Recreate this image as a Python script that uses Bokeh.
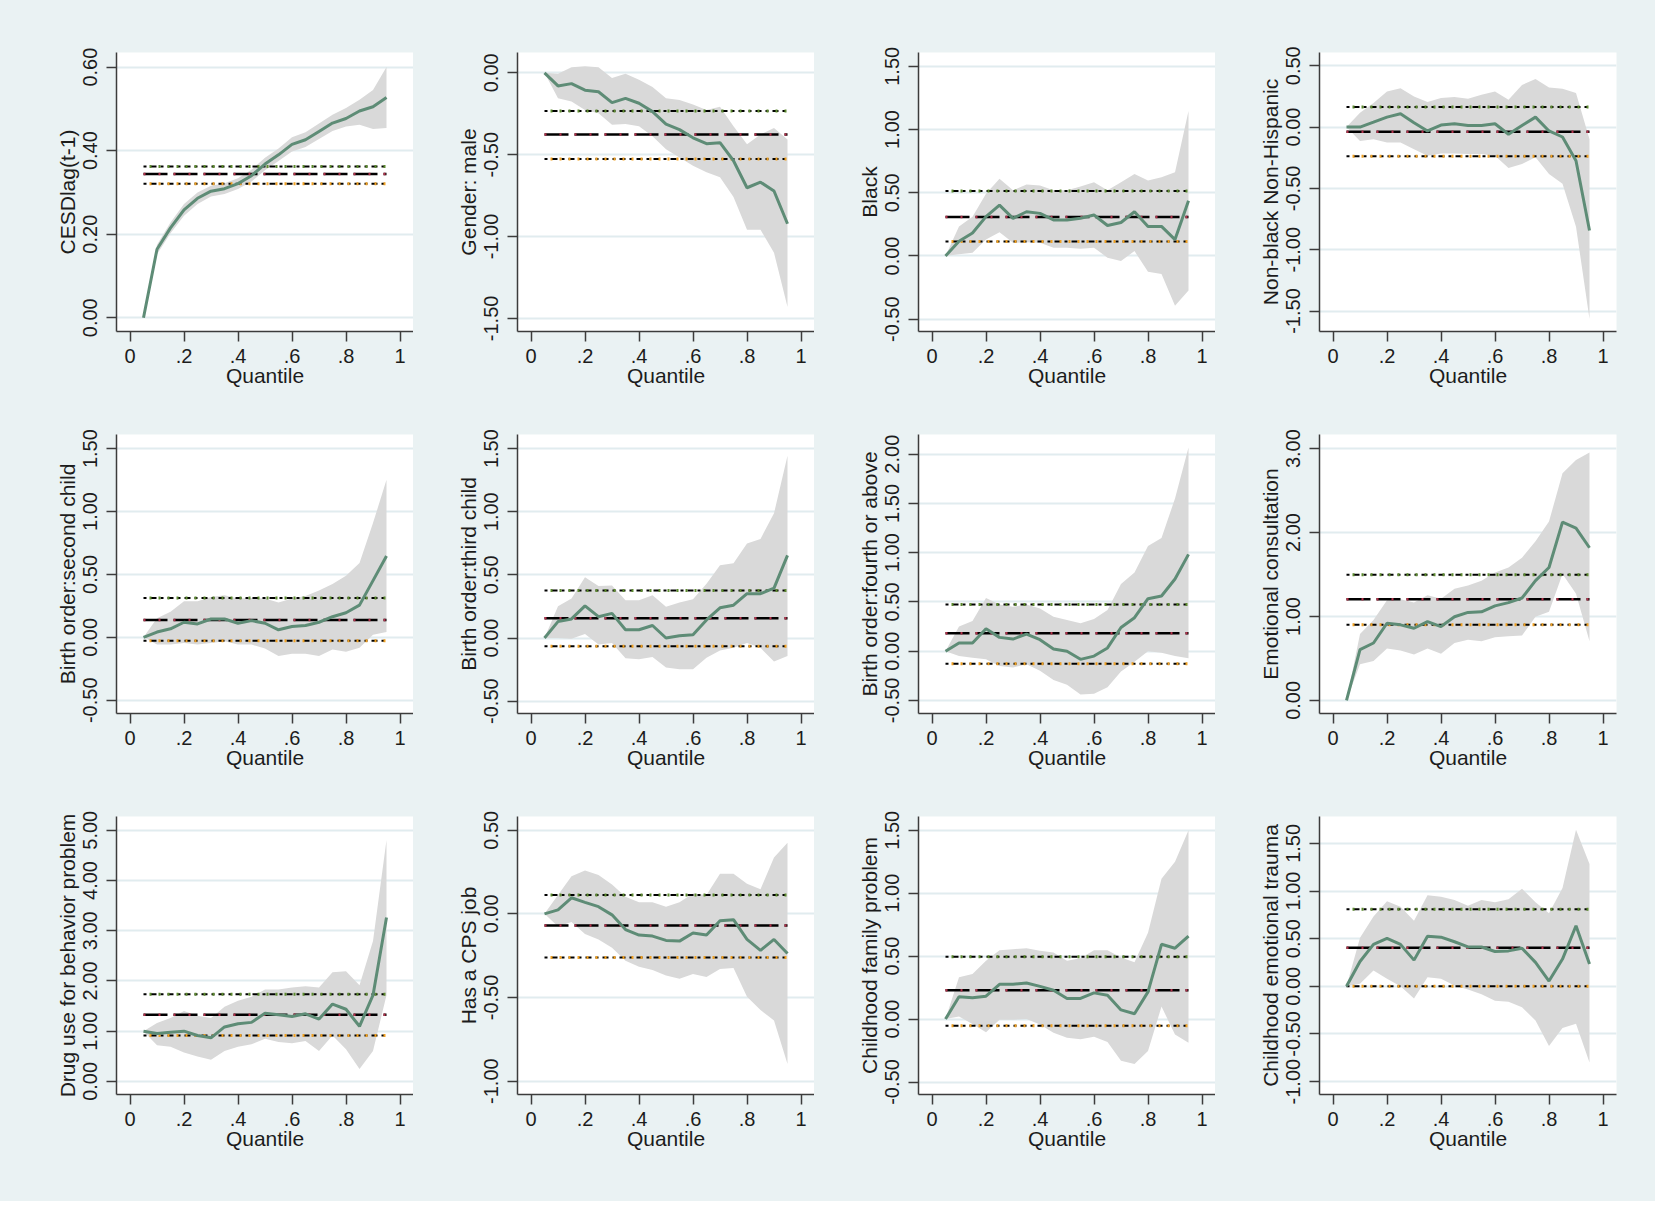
from bokeh.plotting import figure
from bokeh.layouts import row, column
from bokeh.models import Range1d, PrintfTickFormatter, CustomJSTickFormatter
from bokeh.embed import file_html
from bokeh.resources import INLINE

# quantiles used by every panel
quantiles = [0.05, 0.10, 0.15, 0.20, 0.25, 0.30, 0.35, 0.40, 0.45, 0.50,
             0.55, 0.60, 0.65, 0.70, 0.75, 0.80, 0.85, 0.90, 0.95]
x_ticks = [0, 0.2, 0.4, 0.6, 0.8, 1]

# CESDlag(t-1)
cesd_coef = [0.000, 0.164, 0.215, 0.258, 0.286, 0.303, 0.309, 0.321, 0.340, 0.368, 0.390, 0.415, 0.426, 0.446, 0.466, 0.477, 0.495, 0.505, 0.527]
cesd_hi   = [0.000, 0.175, 0.228, 0.272, 0.300, 0.316, 0.322, 0.334, 0.354, 0.383, 0.405, 0.432, 0.444, 0.465, 0.486, 0.502, 0.522, 0.545, 0.600]
cesd_lo   = [0.000, 0.152, 0.202, 0.244, 0.272, 0.290, 0.296, 0.308, 0.326, 0.353, 0.375, 0.398, 0.409, 0.428, 0.447, 0.458, 0.462, 0.452, 0.454]
cesd_ols  = [0.362, 0.344, 0.321]

# Gender: male
male_coef = [0.000, -0.080, -0.066, -0.106, -0.116, -0.182, -0.156, -0.186, -0.237, -0.313, -0.347, -0.397, -0.433, -0.427, -0.537, -0.702, -0.668, -0.722, -0.922]
male_hi   = [0.000, -0.006, 0.034, 0.040, 0.034, -0.032, -0.006, -0.042, -0.086, -0.156, -0.166, -0.193, -0.227, -0.207, -0.327, -0.437, -0.377, -0.337, -0.407]
male_lo   = [0.000, -0.156, -0.176, -0.227, -0.247, -0.317, -0.313, -0.327, -0.387, -0.467, -0.517, -0.567, -0.608, -0.638, -0.758, -0.958, -0.958, -1.099, -1.430]
male_ols  = [-0.233, -0.377, -0.527]

# Black
black_coef = [0.000, 0.117, 0.182, 0.311, 0.402, 0.298, 0.350, 0.337, 0.285, 0.285, 0.298, 0.324, 0.241, 0.265, 0.350, 0.234, 0.234, 0.130, 0.436]
black_hi   = [0.000, 0.234, 0.311, 0.493, 0.610, 0.519, 0.566, 0.558, 0.519, 0.519, 0.550, 0.584, 0.519, 0.584, 0.649, 0.597, 0.623, 0.662, 1.147]
black_lo   = [0.000, 0.013, 0.026, 0.130, 0.187, 0.104, 0.109, 0.104, 0.065, 0.065, 0.057, 0.065, -0.013, -0.039, 0.039, -0.125, -0.143, -0.394, -0.273]
black_ols  = [0.514, 0.309, 0.114]

# Non-black Non-Hispanic
nbnh_coef = [0.000, 0.000, 0.040, 0.081, 0.108, 0.035, -0.032, 0.016, 0.027, 0.013, 0.013, 0.027, -0.059, 0.013, 0.081, -0.032, -0.081, -0.274, -0.844]
nbnh_hi   = [0.000, 0.116, 0.196, 0.290, 0.317, 0.250, 0.204, 0.237, 0.245, 0.231, 0.263, 0.290, 0.223, 0.344, 0.392, 0.323, 0.312, 0.277, -0.099]
nbnh_lo   = [0.000, -0.113, -0.099, -0.126, -0.126, -0.180, -0.234, -0.215, -0.215, -0.220, -0.220, -0.234, -0.333, -0.301, -0.247, -0.382, -0.462, -0.812, -1.565]
nbnh_ols  = [0.164, -0.038, -0.239]

# Birth order: second child
second_coef = [0.000, 0.042, 0.068, 0.120, 0.107, 0.146, 0.146, 0.112, 0.133, 0.112, 0.060, 0.086, 0.094, 0.120, 0.164, 0.196, 0.256, 0.451, 0.647]
second_hi   = [0.000, 0.151, 0.204, 0.287, 0.287, 0.321, 0.334, 0.308, 0.313, 0.308, 0.277, 0.308, 0.329, 0.373, 0.425, 0.490, 0.590, 0.908, 1.252]
second_lo   = [0.000, -0.057, -0.057, -0.044, -0.057, -0.044, -0.031, -0.057, -0.057, -0.089, -0.149, -0.130, -0.130, -0.149, -0.097, -0.115, -0.083, 0.021, 0.042]
second_ols  = [0.313, 0.138, -0.026]

# Birth order: third child
third_coef = [0.000, 0.130, 0.151, 0.255, 0.169, 0.195, 0.065, 0.065, 0.099, 0.000, 0.018, 0.026, 0.143, 0.239, 0.260, 0.351, 0.351, 0.395, 0.655]
third_hi   = [0.000, 0.252, 0.312, 0.481, 0.411, 0.416, 0.299, 0.299, 0.338, 0.247, 0.281, 0.307, 0.429, 0.577, 0.593, 0.749, 0.785, 0.988, 1.443]
third_lo   = [0.000, 0.000, -0.005, 0.031, -0.052, -0.039, -0.161, -0.169, -0.151, -0.234, -0.247, -0.247, -0.156, -0.099, -0.078, -0.039, -0.078, -0.187, -0.143]
third_ols  = [0.377, 0.156, -0.065]

# Birth order: fourth or above
fourth_coef = [0.000, 0.083, 0.083, 0.227, 0.140, 0.123, 0.173, 0.117, 0.023, 0.000, -0.083, -0.050, 0.033, 0.240, 0.340, 0.533, 0.560, 0.733, 0.983]
fourth_hi   = [0.000, 0.250, 0.307, 0.540, 0.473, 0.450, 0.473, 0.433, 0.350, 0.317, 0.283, 0.327, 0.417, 0.683, 0.800, 1.067, 1.150, 1.550, 2.067]
fourth_lo   = [0.000, -0.050, -0.067, -0.083, -0.150, -0.167, -0.133, -0.200, -0.293, -0.340, -0.440, -0.433, -0.367, -0.207, -0.107, 0.000, -0.017, -0.050, -0.073]
fourth_ols  = [0.473, 0.183, -0.127]

# Emotional consultation
consult_coef = [0.000, 0.606, 0.684, 0.919, 0.900, 0.860, 0.939, 0.880, 0.997, 1.048, 1.056, 1.126, 1.165, 1.220, 1.427, 1.584, 2.124, 2.053, 1.819]
consult_hi   = [0.000, 0.790, 0.958, 1.193, 1.205, 1.165, 1.252, 1.212, 1.330, 1.369, 1.427, 1.525, 1.584, 1.701, 1.897, 2.131, 2.706, 2.863, 2.953]
consult_lo   = [0.000, 0.430, 0.469, 0.618, 0.594, 0.548, 0.618, 0.555, 0.684, 0.724, 0.704, 0.751, 0.763, 0.774, 0.997, 1.056, 1.506, 1.271, 0.704]
consult_ols  = [1.498, 1.205, 0.900]

# Drug use for behavior problem
drug_coef = [1.000, 0.953, 0.979, 1.000, 0.914, 0.868, 1.084, 1.149, 1.175, 1.358, 1.325, 1.292, 1.345, 1.240, 1.540, 1.436, 1.097, 1.717, 3.264]
drug_hi   = [1.000, 1.162, 1.260, 1.403, 1.305, 1.260, 1.488, 1.606, 1.684, 1.828, 1.828, 1.867, 1.893, 1.867, 2.174, 2.193, 1.913, 2.794, 4.804]
drug_lo   = [1.000, 0.718, 0.692, 0.574, 0.496, 0.431, 0.607, 0.692, 0.738, 0.849, 0.783, 0.757, 0.803, 0.607, 0.914, 0.640, 0.248, 0.607, 1.717]
drug_ols  = [1.736, 1.325, 0.914]

# Has a CPS job
cps_coef = [0.000, 0.024, 0.096, 0.069, 0.043, -0.006, -0.094, -0.127, -0.133, -0.159, -0.163, -0.114, -0.127, -0.041, -0.035, -0.153, -0.218, -0.153, -0.237]
cps_hi   = [0.000, 0.112, 0.225, 0.259, 0.233, 0.175, 0.102, 0.069, 0.069, 0.043, 0.069, 0.122, 0.112, 0.239, 0.239, 0.180, 0.147, 0.337, 0.425]
cps_lo   = [0.000, -0.075, -0.049, -0.120, -0.153, -0.202, -0.280, -0.316, -0.335, -0.369, -0.388, -0.359, -0.378, -0.329, -0.324, -0.496, -0.575, -0.637, -0.898]
cps_ols  = [0.112, -0.069, -0.261]

# Childhood family problem
family_coef = [0.000, 0.177, 0.169, 0.182, 0.276, 0.276, 0.286, 0.260, 0.229, 0.164, 0.164, 0.208, 0.190, 0.073, 0.042, 0.216, 0.594, 0.563, 0.659]
family_hi   = [0.000, 0.333, 0.359, 0.464, 0.547, 0.555, 0.563, 0.542, 0.529, 0.464, 0.484, 0.547, 0.547, 0.490, 0.451, 0.685, 1.115, 1.250, 1.500]
family_lo   = [0.000, 0.021, -0.039, -0.104, -0.005, -0.005, 0.000, -0.044, -0.109, -0.148, -0.161, -0.141, -0.182, -0.331, -0.357, -0.253, 0.099, -0.122, -0.188]
family_ols  = [0.495, 0.229, -0.052]

# Childhood emotional trauma
trauma_coef = [0.000, 0.261, 0.440, 0.502, 0.440, 0.275, 0.526, 0.516, 0.468, 0.413, 0.413, 0.365, 0.372, 0.399, 0.251, 0.055, 0.286, 0.636, 0.234]
trauma_hi   = [0.000, 0.509, 0.733, 0.894, 0.836, 0.688, 0.956, 0.939, 0.905, 0.846, 0.905, 0.881, 0.915, 1.025, 0.881, 0.767, 1.032, 1.644, 1.283]
trauma_lo   = [0.000, 0.028, 0.165, 0.079, 0.000, -0.127, 0.096, 0.079, 0.010, -0.034, -0.083, -0.151, -0.162, -0.220, -0.358, -0.626, -0.437, -0.392, -0.798]
trauma_ols  = [0.808, 0.406, 0.000]

labels = ["CESDlag(t-1)", "Gender: male", "Black", "Non-black Non-Hispanic",
          "Birth order:second child", "Birth order:third child",
          "Birth order:fourth or above", "Emotional consultation",
          "Drug use for behavior problem", "Has a CPS job",
          "Childhood family problem", "Childhood emotional trauma"]

y_ticks = [
    [0, 0.2, 0.4, 0.6],
    [-1.5, -1, -0.5, 0],
    [-0.5, 0, 0.5, 1, 1.5],
    [-1.5, -1, -0.5, 0, 0.5],
    [-0.5, 0, 0.5, 1, 1.5],
    [-0.5, 0, 0.5, 1, 1.5],
    [-0.5, 0, 0.5, 1, 1.5, 2],
    [0, 1, 2, 3],
    [0, 1, 2, 3, 4, 5],
    [-1, -0.5, 0, 0.5],
    [-0.5, 0, 0.5, 1, 1.5],
    [-1, -0.5, 0, 0.5, 1, 1.5],
]
y_limits = [(-0.033, 0.635), (-1.58, 0.124), (-0.597, 1.609), (-1.667, 0.608),
            (-0.605, 1.612), (-0.598, 1.612), (-0.633, 2.2), (-0.156, 3.168),
            (-0.261, 5.274), (-1.08, 0.582), (-0.599, 1.609), (-1.135, 1.782)]

panels = [
    (cesd_coef, cesd_hi, cesd_lo, cesd_ols),
    (male_coef, male_hi, male_lo, male_ols),
    (black_coef, black_hi, black_lo, black_ols),
    (nbnh_coef, nbnh_hi, nbnh_lo, nbnh_ols),
    (second_coef, second_hi, second_lo, second_ols),
    (third_coef, third_hi, third_lo, third_ols),
    (fourth_coef, fourth_hi, fourth_lo, fourth_ols),
    (consult_coef, consult_hi, consult_lo, consult_ols),
    (drug_coef, drug_hi, drug_lo, drug_ols),
    (cps_coef, cps_hi, cps_lo, cps_ols),
    (family_coef, family_hi, family_lo, family_ols),
    (trauma_coef, trauma_hi, trauma_lo, trauma_ols),
]

BG     = "#eaf2f3"
GRID   = "#e1ecef"
AXIS   = "#3c3c3c"
TEXT   = "#1c1c1c"
LINE   = "#5e8c76"
BAND   = "#d9d9d9"
FONT   = "Liberation Sans"

# layout: column widths / borders, row heights / borders
col_w     = [413, 401, 401, 440]
col_left  = [116, 104, 104, 104]
col_right = [0, 0, 0, 39]
row_h      = [389, 382, 430]
row_top    = [52, 45, 45]
row_bottom = [57, 58, 107]


def make_panel(i, r, c):
    coef, hi, lo, ols = panels[i]
    p = figure(width=col_w[c], height=row_h[r],
               x_range=Range1d(-0.05, 1.05), y_range=Range1d(*y_limits[i]),
               output_backend="svg", toolbar_location=None,
               min_border_left=col_left[c], min_border_right=col_right[c],
               min_border_top=row_top[r], min_border_bottom=row_bottom[r])
    p.background_fill_color = "white"
    p.border_fill_color = BG
    p.outline_line_color = None

    # confidence band of the quantile estimates
    p.varea(x=quantiles, y1=lo, y2=hi, fill_color=BAND, fill_alpha=1.0)

    # OLS estimate and its confidence interval
    n = len(quantiles)
    p.line(quantiles, [ols[0]] * n, line_color="black", line_width=2, line_dash="3 4 6 4")
    p.line(quantiles, [ols[0]] * n, line_color="#5c8a2e", line_width=3,
           line_dash="2 7", line_dash_offset=3)
    p.line(quantiles, [ols[1]] * n, line_color="black", line_width=2.5, line_dash="24 6")
    p.line(quantiles, [ols[1]] * n, line_color="#b2304a", line_width=2.5, line_dash="2 13")
    p.line(quantiles, [ols[2]] * n, line_color="black", line_width=2, line_dash="3 4 6 4")
    p.line(quantiles, [ols[2]] * n, line_color="#f0a020", line_width=3,
           line_dash="2 7", line_dash_offset=3)

    # quantile regression coefficients
    p.line(quantiles, coef, line_color=LINE, line_width=3)

    p.xgrid.visible = False
    p.yaxis.ticker = y_ticks[i]
    p.ygrid.ticker = p.yaxis[0].ticker
    p.ygrid.grid_line_color = GRID
    p.ygrid.grid_line_width = 2
    p.xaxis.ticker = x_ticks
    p.xaxis.formatter = CustomJSTickFormatter(
        code="return (tick == 0 || tick == 1) ? tick.toFixed(0) : tick.toFixed(1).replace(/^0/, '');")
    p.yaxis.formatter = PrintfTickFormatter(format="%.2f")
    p.yaxis.major_label_orientation = "vertical"

    p.xaxis.axis_label = "Quantile"
    p.yaxis.axis_label = labels[i]

    for ax in (p.xaxis[0], p.yaxis[0]):
        ax.axis_line_color = AXIS
        ax.axis_line_width = 1.5
        ax.major_tick_line_color = AXIS
        ax.major_tick_line_width = 1.5
        ax.major_tick_out = 10
        ax.major_tick_in = 0
        ax.minor_tick_out = 0
        ax.minor_tick_in = 0
        ax.major_label_text_font = FONT
        ax.major_label_text_font_size = "20px"
        ax.major_label_text_color = TEXT
        ax.axis_label_text_font = FONT
        ax.axis_label_text_font_size = "21px"
        ax.axis_label_text_font_style = "normal"
        ax.axis_label_text_color = TEXT
    p.xaxis.major_label_standoff = 7
    p.xaxis.axis_label_standoff = -2
    p.yaxis.major_label_standoff = 9
    p.yaxis.axis_label_standoff = 2
    return p


rows = []
for r in range(3):
    rows.append(row(*[make_panel(r * 4 + c, r, c) for c in range(4)],
                    styles={"background-color": BG}))
layout = column(*rows, styles={"background-color": BG})

open("out.html", "w").write(file_html(layout, INLINE))
